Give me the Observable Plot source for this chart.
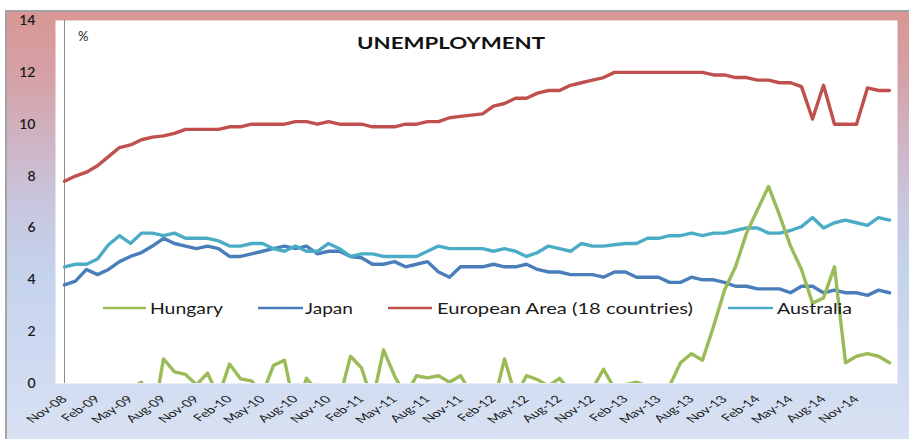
<!DOCTYPE html>
<html>
<head>
<meta charset="utf-8">
<script src="https://cdn.jsdelivr.net/npm/d3@7"></script>
<script src="https://cdn.jsdelivr.net/npm/@observablehq/plot@0.6"></script>
<style>
  html, body { margin: 0; padding: 0; background: #ffffff; }
  #wrap { position: relative; width: 909px; height: 439px; overflow: hidden; background: #ffffff; }
  #bg {
    position: absolute; left: 5px; top: 10px; width: 904px; height: 429px;
    border-top: 2px solid #a3a3a3; border-left: 2px solid #a3a3a3; box-sizing: border-box;
    background: linear-gradient(180deg, #d99694 0%, #d5a1a6 15%, #cfb4c4 30%, #c8c6de 45%, #c5d2ec 60%, #cdd9f0 80%, #d9e2f3 100%);
  }
  #chart { position: absolute; left: 0; top: 0; }
</style>
</head>
<body>
<div id="wrap"><div id="bg"></div><div id="chart"></div></div>
<script>
const months = [
  "Nov-08","Dec-08",
  "Jan-09","Feb-09","Mar-09","Apr-09","May-09","Jun-09","Jul-09","Aug-09","Sep-09","Oct-09","Nov-09","Dec-09",
  "Jan-10","Feb-10","Mar-10","Apr-10","May-10","Jun-10","Jul-10","Aug-10","Sep-10","Oct-10","Nov-10","Dec-10",
  "Jan-11","Feb-11","Mar-11","Apr-11","May-11","Jun-11","Jul-11","Aug-11","Sep-11","Oct-11","Nov-11","Dec-11",
  "Jan-12","Feb-12","Mar-12","Apr-12","May-12","Jun-12","Jul-12","Aug-12","Sep-12","Oct-12","Nov-12","Dec-12",
  "Jan-13","Feb-13","Mar-13","Apr-13","May-13","Jun-13","Jul-13","Aug-13","Sep-13","Oct-13","Nov-13","Dec-13",
  "Jan-14","Feb-14","Mar-14","Apr-14","May-14","Jun-14","Jul-14","Aug-14","Sep-14","Oct-14","Nov-14","Dec-14",
  "Jan-15","Feb-15"
];
const xTickLabels = ["Nov-08","Feb-09","May-09","Aug-09","Nov-09","Feb-10","May-10","Aug-10","Nov-10","Feb-11","May-11","Aug-11","Nov-11","Feb-12","May-12","Aug-12","Nov-12","Feb-13","May-13","Aug-13","Nov-13","Feb-14","May-14","Aug-14","Nov-14"];
const yTicks = [0, 2, 4, 6, 8, 10, 12, 14];

const hungary = [-0.3,-0.4,-0.3,-0.5,-0.4,-0.3,-0.2,0.05,-1.5,0.95,
  0.45,0.35,-0.05,0.4,-0.5,0.75,0.18,0.1,-0.4,0.7,
  0.9,-1.1,0.2,-0.3,-0.4,-0.6,1.05,0.6,-0.7,1.3,
  0.3,-0.5,0.3,0.22,0.3,0.05,0.3,-0.4,-0.5,-0.8,
  0.95,-0.5,0.3,0.15,-0.1,0.2,-0.3,-0.4,-0.2,0.55,
  -0.2,-0.05,0.05,-0.1,-0.3,-0.1,0.8,1.15,0.9,2.2,
  3.6,4.5,5.8,6.7,7.6,6.5,5.3,4.4,3.1,3.3,
  4.5,0.8,1.05,1.15,1.05,0.8];
const japan = [3.8,3.95,4.4,4.2,4.4,4.7,4.9,5.05,5.3,5.6,
  5.4,5.3,5.2,5.3,5.2,4.9,4.9,5.0,5.1,5.2,
  5.3,5.2,5.3,5.0,5.1,5.1,4.9,4.85,4.6,4.6,
  4.7,4.5,4.6,4.7,4.3,4.1,4.5,4.5,4.5,4.6,
  4.5,4.5,4.6,4.4,4.3,4.3,4.2,4.2,4.2,4.1,
  4.3,4.3,4.1,4.1,4.1,3.9,3.9,4.1,4.0,4.0,
  3.9,3.75,3.75,3.65,3.65,3.65,3.5,3.75,3.75,3.5,
  3.6,3.5,3.5,3.4,3.6,3.5];
const europe = [7.8,8.0,8.15,8.4,8.75,9.1,9.2,9.4,9.5,9.55,
  9.65,9.8,9.8,9.8,9.8,9.9,9.9,10.0,10.0,10.0,
  10.0,10.1,10.1,10.0,10.1,10.0,10.0,10.0,9.9,9.9,
  9.9,10.0,10.0,10.1,10.1,10.25,10.3,10.35,10.4,10.7,
  10.8,11.0,11.0,11.2,11.3,11.3,11.5,11.6,11.7,11.8,
  12.0,12.0,12.0,12.0,12.0,12.0,12.0,12.0,12.0,11.9,
  11.9,11.8,11.8,11.7,11.7,11.6,11.6,11.45,10.2,11.5,
  10.0,10.0,10.0,11.4,11.3,11.3];
const australia = [4.5,4.6,4.6,4.8,5.35,5.7,5.4,5.8,5.8,5.7,
  5.8,5.6,5.6,5.6,5.5,5.3,5.3,5.4,5.4,5.2,
  5.1,5.3,5.1,5.1,5.4,5.2,4.9,5.0,5.0,4.9,
  4.9,4.9,4.9,5.1,5.3,5.2,5.2,5.2,5.2,5.1,
  5.2,5.1,4.9,5.05,5.3,5.2,5.1,5.4,5.3,5.3,
  5.35,5.4,5.4,5.6,5.6,5.7,5.7,5.8,5.7,5.8,
  5.8,5.9,6.0,6.0,5.8,5.8,5.9,6.05,6.4,6.0,
  6.2,6.3,6.2,6.1,6.4,6.3];

const seriesNames = ["Hungary", "Japan", "European Area (18 countries)", "Australia"];
const seriesColors = ["#9bbb59", "#4a7ebb", "#c0504d", "#4bacc6"];
const title = "UNEMPLOYMENT";
const unitLabel = "%";

const toRows = (vals) => vals.map((v, i) => ({month: months[i], value: v}));
const lineOpts = (color) => ({x: "month", y: "value", stroke: color, strokeWidth: 3.4, strokeLinejoin: "round", strokeLinecap: "round"});

const chart = Plot.plot({
  width: 909,
  height: 439,
  marginLeft: 55,
  marginRight: 12,
  marginTop: 20,
  marginBottom: 56,
  style: {background: "transparent", fontFamily: "Lato, 'Open Sans', sans-serif", color: "#1a1a1a"},
  x: {type: "point", domain: months, padding: 0},
  y: {domain: [0, 14]},
  marks: [
    Plot.frame({fill: "white", stroke: "none"}),
    Plot.ruleX([months[0]], {stroke: "#8c8c8c", strokeWidth: 1}),
    Plot.axisY({ticks: yTicks, tickSize: 0, tickPadding: 20, fontSize: 14, fontWeight: 600, label: null}),
    Plot.axisX({ticks: xTickLabels, tickSize: 0, tickPadding: 14, tickRotate: -45, fontSize: 10, label: null}),
    Plot.line(toRows(japan), lineOpts(seriesColors[1])),
    Plot.line(toRows(europe), lineOpts(seriesColors[2])),
    Plot.line(toRows(australia), lineOpts(seriesColors[3])),
    Plot.line(toRows(hungary), {...lineOpts(seriesColors[0]), clip: true})
  ]
});
document.getElementById("chart").appendChild(chart);

const svg = d3.select(chart);

// stretch the rotated x tick labels horizontally like the reference
svg.selectAll("g[aria-label='x-axis tick label'] text").each(function() {
  const t = this.getAttribute("transform");
  if (t && t.includes("rotate(")) {
    this.setAttribute("transform", t.replace("rotate(", "scale(1.5,1) rotate("));
  }
});

// title and unit label
svg.append("text")
  .attr("x", 357).attr("y", 49).attr("text-anchor", "start")
  .attr("textLength", 188).attr("lengthAdjust", "spacingAndGlyphs")
  .attr("font-family", "Lato, sans-serif").attr("font-weight", "bold").attr("font-size", 17)
  .attr("fill", "#111").text(title);
svg.append("text")
  .attr("x", 78).attr("y", 41).attr("text-anchor", "start")
  .attr("font-family", "Lato, sans-serif").attr("font-size", 13)
  .attr("fill", "#222").text(unitLabel);

// legend inside the plot
const legendLayout = [
  {x0: 103, x1: 146, tx: 150, tw: 73},
  {x0: 258, x1: 303, tx: 305, tw: 48},
  {x0: 388, x1: 432, tx: 437, tw: 256},
  {x0: 728, x1: 773, tx: 777, tw: 75}
];
const lg = svg.append("g").attr("text-anchor", "start");
seriesNames.forEach((name, k) => {
  const L = legendLayout[k];
  lg.append("line").attr("x1", L.x0).attr("x2", L.x1).attr("y1", 308).attr("y2", 308)
    .attr("stroke", seriesColors[k]).attr("stroke-width", 2.5);
  lg.append("text").attr("x", L.tx).attr("y", 314).attr("text-anchor", "start")
    .attr("textLength", L.tw).attr("lengthAdjust", "spacingAndGlyphs")
    .attr("font-family", "Lato, sans-serif").attr("font-size", 16)
    .attr("fill", "#1a1a1a").text(name);
});
</script>
</body>
</html>
